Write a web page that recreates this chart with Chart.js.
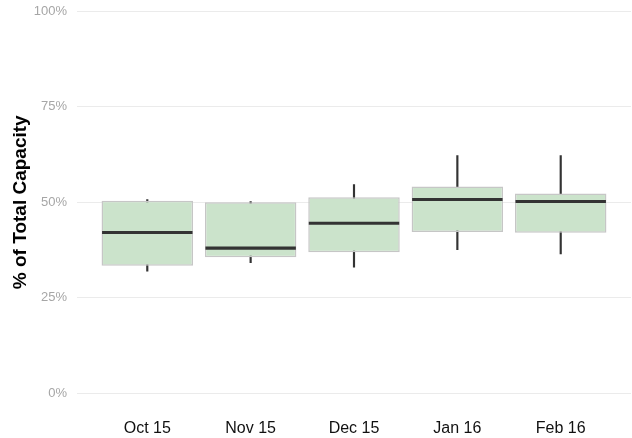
<!DOCTYPE html>
<html>
<head>
<meta charset="utf-8">
<script src="https://cdn.jsdelivr.net/npm/chart.js@4/dist/chart.umd.min.js"></script>
<style>
  html, body { margin: 0; padding: 0; background: #fff; }
  #wrap { width: 632px; height: 438px; }
</style>
</head>
<body>
<div id="wrap"><canvas id="capChart" width="632" height="438"></canvas></div>
<script>
// monthly spread of capacity use (percent)
const meses = ['Oct 15', 'Nov 15', 'Dec 15', 'Jan 16', 'Feb 16'];
const bigoteBajo = [32.0, 34.2, 33.0, 37.6, 36.5];
const cuartil1 = [33.4, 35.6, 36.9, 42.2, 42.0];
const mediana = [42.1, 38.0, 44.5, 50.7, 50.2];
const cuartil3 = [50.4, 50.0, 51.3, 54.1, 52.3];
const bigoteAlto = [50.7, 50.2, 54.6, 62.2, 62.2];
const ticksY = [0, 25, 50, 75, 100];

const FUENTE = "'Liberation Sans', Arial, Helvetica, sans-serif";
const GROSOR_MEDIANA = 0.4; // half thickness of the median bar, in % units

// floating bars: [low, high] per month, x = month position 1..n
const flotante = (bajo, alto) => meses.map((m, i) => ({ x: i + 1, y: [bajo[i], alto[i]] }));

const ctx = document.getElementById('capChart').getContext('2d');
new Chart(ctx, {
    type: 'bar',
    data: {
        datasets: [
            {
                label: 'mediana',
                data: meses.map((m, i) => ({ x: i + 1, y: [mediana[i] - GROSOR_MEDIANA, mediana[i] + GROSOR_MEDIANA] })),
                backgroundColor: '#333333',
                borderWidth: 0,
                grouped: false,
                categoryPercentage: 1,
                barPercentage: 0.875,
                order: 1
            },
            {
                label: 'caja',
                data: flotante(cuartil1, cuartil3),
                backgroundColor: '#cbe3cb',
                borderColor: '#c6c6c6',
                borderWidth: 1.5,
                borderSkipped: false,
                grouped: false,
                categoryPercentage: 1,
                barPercentage: 0.885,
                order: 2
            },
            {
                label: 'bigotes',
                data: flotante(bigoteBajo, bigoteAlto),
                backgroundColor: '#333333',
                borderWidth: 0,
                grouped: false,
                barThickness: 1.5,
                order: 3
            }
        ]
    },
    options: {
        responsive: false,
        animation: false,
        layout: { padding: { top: 11, right: 1, bottom: 0, left: 0 } },
        plugins: {
            legend: { display: false },
            tooltip: { enabled: false }
        },
        scales: {
            x: {
                type: 'linear',
                offset: false,
                min: 0.32,
                max: meses.length + 0.68,
                afterBuildTicks: (scale) => {
                    scale.ticks = meses.map((m, i) => ({ value: i + 1 }));
                },
                afterFit: (scale) => { scale.height = 44.5; },
                grid: { display: false, drawTicks: false },
                border: { display: false },
                ticks: {
                    padding: 25,
                    maxRotation: 0,
                    autoSkip: false,
                    color: '#111111',
                    font: { family: FUENTE, size: 16 },
                    callback: (v) => meses[v - 1] || ''
                }
            },
            y: {
                min: 0,
                max: 100,
                afterBuildTicks: (scale) => {
                    scale.ticks = ticksY.map(v => ({ value: v }));
                },
                afterFit: (scale) => {
                    scale.width = 77;
                    scale.paddingTop = 0; // top edge comes from layout padding only
                },
                grid: { color: '#ebebeb', lineWidth: 1, drawTicks: false },
                border: { display: false },
                ticks: {
                    padding: 10,
                    color: '#a6a6a6',
                    font: { family: FUENTE, size: 13 },
                    callback: (v) => v + '%'
                },
                title: {
                    display: true,
                    text: '% of Total Capacity',
                    color: '#000000',
                    font: { family: FUENTE, size: 19, weight: 'bold' },
                    padding: { top: 9, bottom: 2 }
                }
            }
        }
    }
});
</script>
</body>
</html>
